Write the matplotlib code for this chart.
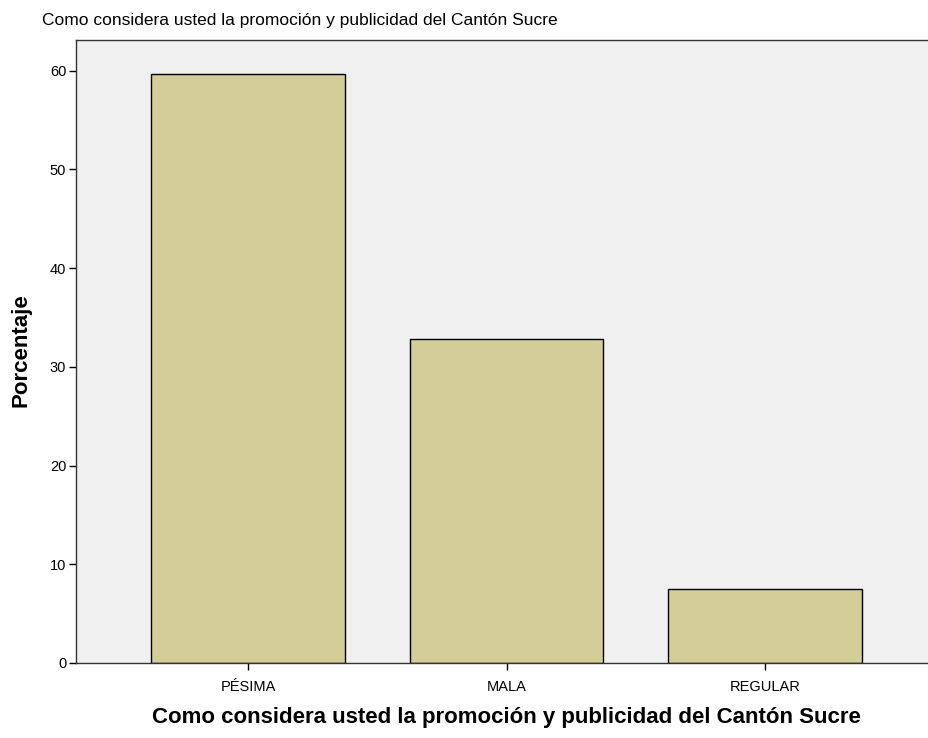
import matplotlib
matplotlib.use("Agg")
import matplotlib.pyplot as plt

categorias = ["PÉSIMA", "MALA", "REGULAR"]
porcentajes = [59.7, 32.8, 7.5]
y_ticks = [0, 10, 20, 30, 40, 50, 60]

titulo = "Como considera usted la promoción y publicidad del Cantón Sucre"

plt.rcParams["font.family"] = ["Liberation Sans", "DejaVu Sans"]

fig = plt.figure(figsize=(9.29, 7.38), dpi=100)
ax = fig.add_axes([76 / 929, 1 - 663 / 738, (929 - 76) / 929, (663 - 40) / 738])
ax.set_facecolor("#F0F0F0")

x = range(len(categorias))
ax.bar(x, porcentajes, width=0.75, color="#D3CE97", edgecolor="black", linewidth=1)

ax.set_xlim(-0.667, 2.636)
ax.set_ylim(0, 63.1)
ax.set_yticks(y_ticks)
ax.set_xticks(list(x))
ax.set_xticklabels(categorias)
ax.tick_params(axis="both", direction="out", length=5, width=1, labelsize=10.5, colors="black")
ax.tick_params(axis="x", pad=7)
ax.tick_params(axis="y", pad=2)

for lado in ["left", "bottom", "top", "right"]:
    ax.spines[lado].set_color("#333333")
    ax.spines[lado].set_linewidth(1)

# etiquetas de ejes y titulo
fig.text(21 / 929, 1 - 350 / 738, "Porcentaje", fontsize=16, fontweight="bold",
         rotation=90, ha="center", va="center")
fig.text(506 / 929, 1 - 718 / 738, titulo, fontsize=16, fontweight="bold",
         ha="center", va="center")
fig.text(42 / 929, 1 - 21 / 738, titulo, fontsize=12.5, color="black",
         ha="left", va="center")

fig.savefig("out.png", dpi=100)
